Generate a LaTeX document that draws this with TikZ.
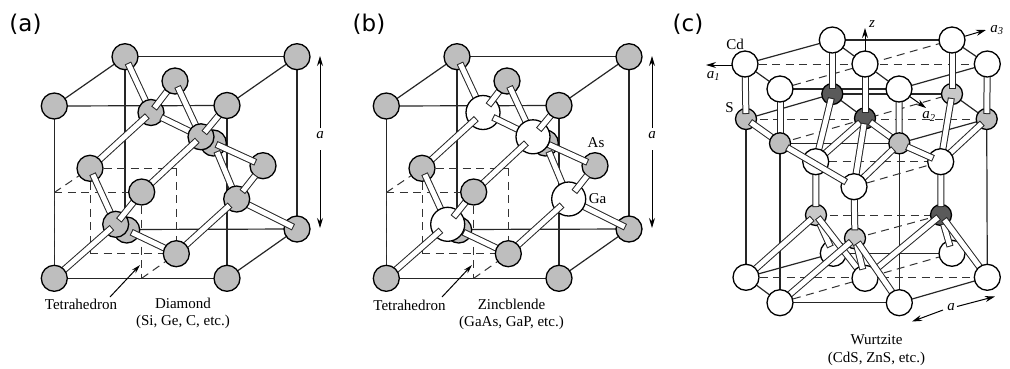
\documentclass[tikz,border=0pt]{standalone}
\usepackage{fontspec}
\setmainfont{Liberation Serif}
\newfontfamily\panelfont{DejaVu Sans}
\usetikzlibrary{calc,arrows.meta}
\definecolor{atomgrey}{HTML}{BEBEBE}
\definecolor{atomlight}{HTML}{C8C8C8}
\definecolor{atomdark}{HTML}{5A5A5A}
\tikzset{
  wire/.style={line width=1.2pt,draw=black!85},
  dashwire/.style={line width=1pt,draw=black!80,dash pattern=on 8pt off 5.5pt},
  bondline/.style={line width=7pt,draw=black!85,postaction={draw=white,line width=5pt,shorten >=1pt,shorten <=1pt}},
  atomgreyball/.style={circle,draw=black,line width=1.3pt,fill=atomgrey,inner sep=0pt,minimum size=26pt},
  atomwhiteball/.style={atomgreyball,fill=white},
  atomwhitebig/.style={atomgreyball,fill=white,minimum size=34pt},
  smalllight/.style={atomgreyball,fill=atomlight,minimum size=21pt},
  smallgrey/.style={atomgreyball,minimum size=21pt},
  smalldark/.style={atomgreyball,fill=atomdark,minimum size=21pt},
  tip/.style={line width=1pt,-{Stealth[length=10pt,width=6pt]}},
  caption/.style={font=\fontsize{15}{17}\selectfont,inner sep=0pt,align=center},
  italiccaption/.style={inner sep=0pt,font=\fontsize{15}{17}\selectfont\itshape},
  paneltag/.style={font=\panelfont\fontsize{23}{26}\selectfont,inner sep=0pt},
}
\newcommand\bond[4]{\draw[bondline] ($(#1)!#3pt!(#2)$) -- ($(#2)!#4pt!(#1)$);}
\newcommand\placeatom[2]{\node[#1] (#2n) at (#2) {};}
% #1 prefix, #2 x shift, #3 inner atom style, #4 start offset of bars on inner atoms
\newcommand\crystal[4]{%
\begin{scope}[shift={(#2,0)}]
  \coordinate (#1tbl) at (125,56.7);
  \coordinate (#1tbr) at (297,56.7);
  \coordinate (#1ftl) at (54.3,106);
  \coordinate (#1ftr) at (227,105.5);
  \coordinate (#1bbl) at (125,229.5);
  \coordinate (#1bbr) at (297,229);
  \coordinate (#1fbl) at (54.3,278.3);
  \coordinate (#1fbr) at (227,278.3);
  \coordinate (#1tc) at (175,81);
  \coordinate (#1l) at (90,168.3);
  \coordinate (#1f) at (141.7,192);
  \coordinate (#1r) at (263,165.7);
  \coordinate (#1b) at (176.3,253.7);
  \coordinate (#1ia) at (151,112.5);
  \coordinate (#1ib) at (201,136.8);
  \coordinate (#1ic) at (213.3,143);
  \coordinate (#1id) at (236.7,199);
  \coordinate (#1ie) at (115.7,224.3);
  \coordinate (#1if) at (126.7,230);
  % small dashed cube
  \coordinate (#1qa) at (54.3,192.5);
  \coordinate (#1qb) at (141.7,192.5);
  \coordinate (#1qc) at (141.7,278.3);
  \coordinate (#1qd) at (90,168.3);
  \coordinate (#1qe) at (176.7,168.3);
  \coordinate (#1qf) at (176.7,253.7);
  \coordinate (#1qg) at (90,253.7);
  \foreach \p/\q in {tbl/tbr,tbl/ftl,tbr/ftr,ftl/ftr,ftl/fbl,ftr/fbr,tbr/bbr,fbl/fbr,bbr/fbr,tbl/bbl,bbl/bbr}
    \draw[wire] (#1\p) -- (#1\q);
  \foreach \p/\q in {qa/qb,qb/qc,qa/qd,qd/qe,qe/qf,qd/qg,qg/qf,qc/qf,qa/fbl}
    \draw[dashwire] (#1\p) -- (#1\q);
  % arrows
  \coordinate (#1atop) at (320,56);
  \coordinate (#1amidu) at (320,128);
  \coordinate (#1amidd) at (320,150);
  \coordinate (#1abot) at (320,228);
  \draw[tip] (#1amidu) -- (#1atop);
  \draw[tip] (#1amidd) -- (#1abot);
  \node[italiccaption] (#1alab) at (320,135) {a};
  % atoms and bars, back to front
  \placeatom{atomgreyball}{#1tbl}
  \placeatom{atomgreyball}{#1tbr}
  \placeatom{atomgreyball}{#1ftl}
  \bond{#1tbl}{#1ia}{7}{0}
  \placeatom{#3}{#1ia}
  \bond{#1ia}{#1tc}{#4}{0}
  \bond{#1ia}{#1l}{#4}{0}
  \bond{#1ia}{#1ib}{11}{0}
  \placeatom{atomgreyball}{#1tc}
  \placeatom{atomgreyball}{#1l}
  \bond{#1tc}{#1ib}{6}{0}
  \placeatom{atomgreyball}{#1bbr}
  \bond{#1bbr}{#1id}{4}{0}
  \placeatom{atomgreyball}{#1r}
  \placeatom{atomgreyball}{#1ic}
  \bond{#1ic}{#1r}{3}{8}
  \bond{#1ic}{#1id}{9}{0}
  \placeatom{#3}{#1ib}
  \bond{#1ib}{#1ftr}{#4}{0}
  \bond{#1ib}{#1f}{#4}{0}
  \placeatom{atomgreyball}{#1ftr}
  \placeatom{#3}{#1id}
  \bond{#1id}{#1r}{9}{12}
  \bond{#1id}{#1b}{9}{0}
  \placeatom{atomgreyball}{#1if}
  \bond{#1if}{#1b}{5}{0}
  \bond{#1l}{#1ie}{6}{0}
  \placeatom{#3}{#1ie}
  \bond{#1ie}{#1f}{#4}{0}
  \bond{#1ie}{#1fbl}{#4}{0}
  \placeatom{atomgreyball}{#1f}
  \placeatom{atomgreyball}{#1b}
  \placeatom{atomgreyball}{#1fbl}
  \placeatom{atomgreyball}{#1fbr}
  % tetrahedron pointer
  \coordinate (#1ptail) at (110,297);
  \coordinate (#1phead) at (140,265);
  \draw[line width=1pt,-{Stealth[length=9pt,width=5pt]}] (#1ptail) -- (#1phead);
\end{scope}}
\begin{document}
\begin{tikzpicture}[x=1pt,y=-1pt]
\useasboundingbox (0,0) rectangle (1010,368);
\fill[white] (0,0) rectangle (1010,368);
\node[paneltag] (tagA) at (25.5,24) {(a)};
\node[paneltag] (tagB) at (369,24) {(b)};
\node[paneltag] (tagC) at (688,24) {(c)};

\crystal{a}{0}{atomgreyball}{5}
\crystal{b}{332}{atomwhitebig}{9}

\node[caption] (tetA) at (81,304) {Tetrahedron};
\node[caption] (nameA) at (183,303) {Diamond};
\node[caption] (listA) at (183,322) {(Si, Ge, C, etc.)};
\node[caption] (tetB) at (409.5,305) {Tetrahedron};
\node[caption] (nameB) at (511.5,304) {Zincblende};
\node[caption] (listB) at (511.5,323) {(GaAs, GaP, etc.)};
\node[caption] (as) at (596,143) {As};
\node[caption] (ga) at (597.5,198.5) {Ga};

% ---------- wurtzite ----------
\foreach \n/\x/\y in {T1/745/64,T2/832.3/40,T3/952/40,T4/987.3/64,T5/780/89,T6/899/89,T7/865/64,
  S1/746/119,S2/832.3/94,S3/952/94,S4/986.7/119,S5/780/143.3,S6/899.3/143.3,S7/865/118.3,
  W1/815.7/161.7,W2/940.7/161.7,W3/854/186.7,
  D1/816/215,D2/941/215,D3/855/238.3,
  B1/746/277.3,B2/780/302.7,B3/899.3/302.7,B4/987.3/277.3,B5/865/278.3,B6/833.3/253.3,B7/952/253.3}
  \coordinate (\n) at (\x,\y);
\foreach \p/\q in {T1/T2,T2/T3,T3/T4,T4/T6,T5/T6,T1/T5,T2/T7,T7/T6,S1/S2,S2/S3,S3/S4,S4/S6,S5/S6,S2/S7,
  S1/B1,S4/B4,S5/B2,S6/B3,B1/B6,B6/B7,B4/B3,B2/B3,B1/B2}
  \draw[wire] (\p) -- (\q);
\foreach \p/\q in {T1/T4,T5/T3,S1/S4,S5/S3,W1/W2,W3/W2,D1/D2,D3/D2,B1/B4,B2/B7}
  \draw[dashwire] (\p) -- (\q);

% axes
\coordinate (a1s) at (745,65);
\coordinate (a1e) at (706,65);
\coordinate (a3s) at (952,40);
\coordinate (a3e) at (986,30);
\coordinate (zs) at (865,64);
\coordinate (ze) at (865,28);
\coordinate (a2s) at (899,89);
\coordinate (a2e) at (926,108);
\draw[tip] (a1s) -- (a1e);
\draw[tip] (a3s) -- (a3e);
\draw[tip] (zs) -- (ze);
\draw[tip] (a2s) -- (a2e);

% lower layer
\placeatom{atomwhiteball}{B6}
\placeatom{atomwhiteball}{B7}
\placeatom{smalllight}{D1}
\placeatom{smalldark}{D2}
\bond{D1}{B6}{9}{7}
\bond{D2}{B7}{9}{7}
\bond{D1}{B5}{3}{0}
\bond{D2}{B5}{3}{0}
\placeatom{atomwhiteball}{B5}
\placeatom{smalllight}{D3}
\bond{D3}{B5}{6}{9}
\bond{D1}{B1}{5}{0}
\bond{D2}{B4}{5}{0}
\bond{D3}{B2}{5}{0}
\bond{D3}{B3}{5}{0}
\placeatom{atomwhiteball}{B1}
\placeatom{atomwhiteball}{B2}
\placeatom{atomwhiteball}{B3}
\placeatom{atomwhiteball}{B4}

% middle uprights
\bond{W1}{D1}{0}{8}
\bond{W2}{D2}{0}{8}
\bond{W3}{D3}{0}{8}

% upper layer
\placeatom{smalldark}{S2}
\placeatom{smalllight}{S3}
\placeatom{smallgrey}{S1}
\placeatom{smallgrey}{S4}
\placeatom{smalldark}{S7}
\bond{T2}{S2}{0}{5}
\bond{T3}{S3}{0}{5}
\bond{T1}{S1}{0}{5}
\bond{T4}{S4}{0}{5}
\bond{T7}{S7}{0}{5}
\bond{T5}{S5}{0}{0}
\bond{T6}{S6}{0}{0}
\placeatom{atomwhiteball}{T1}
\placeatom{atomwhiteball}{T2}
\placeatom{atomwhiteball}{T3}
\placeatom{atomwhiteball}{T4}
\placeatom{atomwhiteball}{T5}
\placeatom{atomwhiteball}{T6}
\placeatom{atomwhiteball}{T7}
\bond{S2}{W1}{4}{0}
\bond{S3}{W2}{4}{0}
\bond{S7}{W1}{6}{0}
\bond{S7}{W3}{5}{0}
\bond{S4}{W2}{6}{0}
\bond{S1}{S5}{5}{0}
\bond{S7}{S6}{6}{0}
\placeatom{smallgrey}{S5}
\placeatom{smallgrey}{S6}
\bond{S6}{W3}{8}{0}
\placeatom{atomwhiteball}{W1}
\placeatom{atomwhiteball}{W2}
\placeatom{atomwhiteball}{W3}
\bond{S5}{W3}{8}{9}
\bond{S6}{W2}{8}{8}

% bottom 'a' dimension
\coordinate (dimas) at (943,310);
\coordinate (dimae) at (912,321.5);
\coordinate (dimbs) at (957,306.5);
\coordinate (dimbe) at (995,296.5);
\draw[tip] (dimas) -- (dimae);
\draw[tip] (dimbs) -- (dimbe);

% labels
\node[caption] (cd) at (735,44.5) {Cd};
\node[caption] (s) at (729.5,107.5) {S};
\node[italiccaption] (lab1) at (713.5,76) {a\textsubscript{1}};
\node[italiccaption] (labz) at (872,24) {z};
\node[italiccaption] (lab3) at (997,30) {a\textsubscript{3}};
\node[italiccaption] (lab2) at (929,116.5) {a\textsubscript{2}};
\node[italiccaption] (labd) at (951,307.5) {a};
\node[caption] (nameC) at (876.5,339.5) {Wurtzite};
\node[caption] (listC) at (876.5,358.5) {(CdS, ZnS, etc.)};
\end{tikzpicture}
\end{document}
